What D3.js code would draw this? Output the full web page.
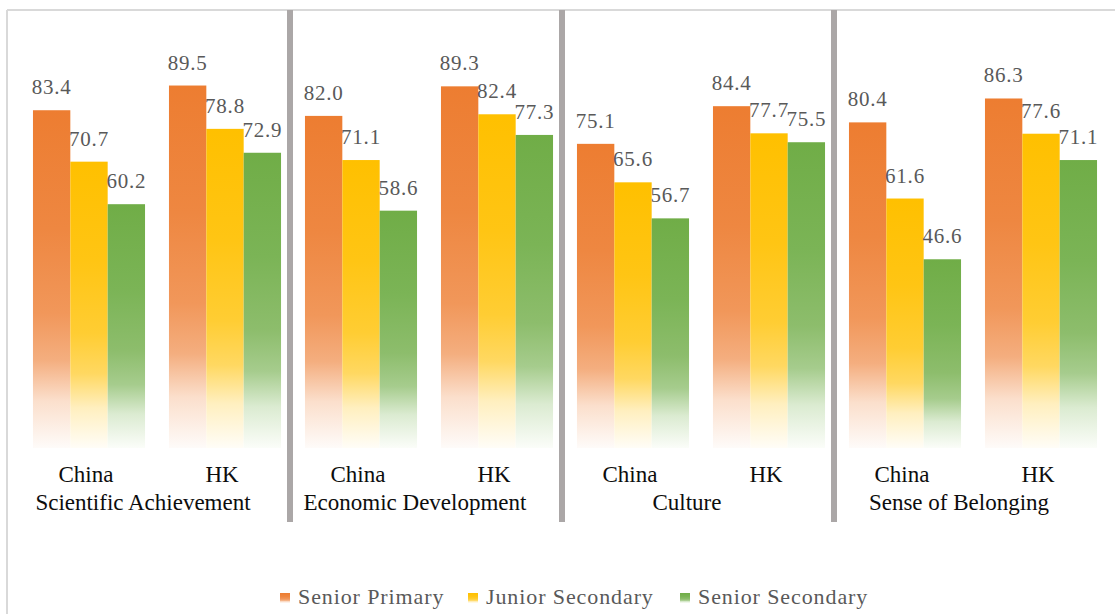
<!DOCTYPE html>
<html>
<head>
<meta charset="utf-8">
<script src="https://cdn.jsdelivr.net/npm/d3@7"></script>
<style>
  svg text { font-family: "Liberation Serif", "Times New Roman", Tinos !important; }
</style>
</head>
<body style="margin:0">
<svg id="chart" width="1115" height="614"></svg>
<script>
// Survey results by theme, region and school level
const themes = ["Scientific Achievement", "Economic Development", "Culture", "Sense of Belonging"];
const regions = ["China", "HK"];
const levels = ["Senior Primary", "Junior Secondary", "Senior Secondary"];
const colors = ["#ED7D31", "#FFC000", "#70AD47"];

// one value per (theme, region) pair, in theme order: China, HK
const seniorPrimary   = [83.4, 89.5, 82.0, 89.3, 75.1, 84.4, 80.4, 86.3];
const juniorSecondary = [70.7, 78.8, 71.1, 82.4, 65.6, 77.7, 61.6, 77.6];
const seniorSecondary = [60.2, 72.9, 58.6, 77.3, 56.7, 75.5, 46.6, 71.1];
const series = [seniorPrimary, juniorSecondary, seniorSecondary];

const W = 1115, H = 614;
const FONT = `"Liberation Serif"`;
const svg = d3.select("#chart");

// one band per (theme, region) pair
const cats = [];
themes.forEach((t, ti) => regions.forEach((r, ri) => cats.push({ key: t + "|" + r, theme: t, ti, region: r, idx: ti * 2 + ri })));

const x0 = d3.scaleBand().domain(cats.map(c => c.key)).range([21, 1109]).paddingInner(0.176).paddingOuter(0.088);
const x1 = d3.scaleBand().domain(levels).range([0, x0.bandwidth()]);
const y = d3.scaleLinear().domain([0, 100]).range([448, 43]);

// gradient per series: solid at top, fading to white toward the base
const defs = svg.append("defs");
colors.forEach((c, i) => {
  const g = defs.append("linearGradient").attr("id", "grad" + i)
    .attr("x1", 0).attr("y1", 0).attr("x2", 0).attr("y2", 1);
  const mix = t => d3.interpolateRgb(c, "#ffffff")(t);
  [[0, 0], [0.35, 0.08], [0.6, 0.2], [0.74, 0.38], [0.86, 0.75], [1, 0.97]].forEach(([o, t]) =>
    g.append("stop").attr("offset", o).attr("stop-color", mix(t)));
});

// frame: top and left edges
svg.append("line").attr("x1", 7).attr("x2", W).attr("y1", 10).attr("y2", 10)
  .attr("stroke", "#d9d9d9").attr("stroke-width", 2);
svg.append("line").attr("x1", 7).attr("x2", 7).attr("y1", 10).attr("y2", H)
  .attr("stroke", "#d9d9d9").attr("stroke-width", 2);

// bars
const barData = [];
cats.forEach(c => levels.forEach((l, i) => barData.push({ cat: c, level: l, i, v: series[i][c.idx] })));
const bx = d => x0(d.cat.key) + x1(d.level);

svg.append("g").selectAll("rect").data(barData).join("rect")
  .attr("x", bx)
  .attr("y", d => y(d.v))
  .attr("width", x1.bandwidth())
  .attr("height", d => y(0) - y(d.v))
  .attr("fill", d => `url(#grad${d.i})`);

// value labels
barData.forEach(d => {
  svg.append("text")
    .attr("x", bx(d) + x1.bandwidth() / 2)
    .attr("y", y(d.v) - 16)
    .attr("text-anchor", "middle")
    .attr("font-family", FONT)
    .attr("font-size", 21)
    .attr("letter-spacing", 0.8)
    .attr("fill", "#595959")
    .text(d.v.toFixed(1));
});

// region labels
cats.forEach(c => {
  svg.append("text")
    .attr("x", x0(c.key) + x0.bandwidth() / 2 - 3)
    .attr("y", 482)
    .attr("text-anchor", "middle")
    .attr("font-family", FONT)
    .attr("font-size", 23)
    .attr("fill", "#0d0d0d")
    .text(c.region);
});

// theme labels, centred under each pair
const step = x0.step();
themes.forEach(t => {
  const cx = (x0(t + "|China") + x0(t + "|HK") + x0.bandwidth()) / 2 - 14;
  svg.append("text")
    .attr("x", cx)
    .attr("y", 510)
    .attr("text-anchor", "middle")
    .attr("font-family", FONT)
    .attr("font-size", 23)
    .attr("fill", "#0d0d0d")
    .text(t);
});

// separators between themes
themes.slice(1).forEach(t => {
  const sx = x0(t + "|China") - (step - x0.bandwidth()) / 2 - 3;
  svg.append("line").attr("x1", sx).attr("x2", sx).attr("y1", 10).attr("y2", 522)
    .attr("stroke", "#aba7a7").attr("stroke-width", 6);
});

// legend
const legendX = [280, 468, 680];
levels.forEach((l, i) => {
  svg.append("rect").attr("x", legendX[i]).attr("y", 593).attr("width", 10).attr("height", 10)
    .attr("fill", `url(#grad${i})`);
  svg.append("text")
    .attr("x", legendX[i] + 18)
    .attr("y", 604)
    .attr("font-family", FONT)
    .attr("font-size", 22)
    .attr("letter-spacing", 0.9)
    .attr("fill", "#595959")
    .text(l);
});
</script>
</body>
</html>
